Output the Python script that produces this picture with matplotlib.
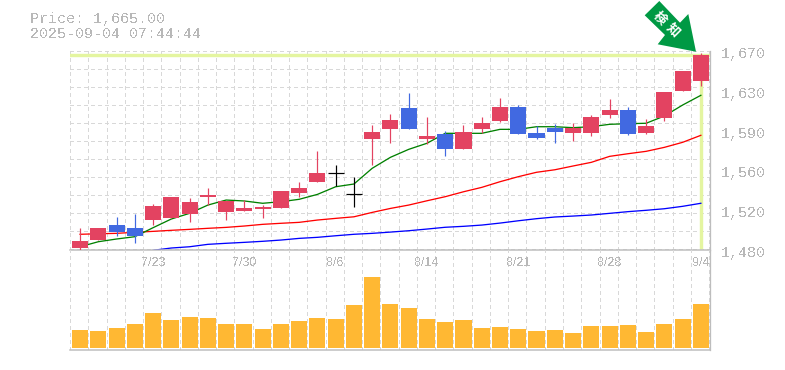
import matplotlib
matplotlib.use("Agg")  # headless-safe backend
import matplotlib.pyplot as plt
import numpy as np
from matplotlib.patches import Polygon

W, H = 785, 370

# price data
opens = [1481.9, 1489.5, 1503.8, 1501.0, 1508.6, 1510.5, 1514.3, 1530.6, 1516.2, 1517.2, 1519.1, 1520.0,
         1534.4, 1544.9, 1553.2, 1533.1, 1586.0, 1595.5, 1615.6, 1586.0, 1590.7, 1576.4, 1595.5, 1603.2,
         1616.5, 1591.7, 1596.5, 1591.7, 1591.7, 1608.9, 1613.7, 1591.7, 1606.0, 1631.8, 1641.4]
closes = [1488.6, 1501.0, 1497.1, 1493.3, 1522.0, 1530.6, 1525.8, 1532.5, 1526.8, 1520.0, 1521.0, 1536.3,
          1539.2, 1553.5, 1553.2, 1533.1, 1592.6, 1604.1, 1595.5, 1588.8, 1576.4, 1592.6, 1601.2, 1616.5,
          1590.7, 1586.9, 1592.6, 1596.5, 1607.0, 1613.7, 1590.7, 1598.4, 1630.8, 1650.9, 1666.2]
highs = [1501.0, 1501.0, 1511.5, 1514.3, 1523.9, 1530.6, 1529.6, 1539.2, 1526.8, 1527.7, 1522.9, 1536.3,
         1544.9, 1574.5, 1561.1, 1549.4, 1599.3, 1609.8, 1629.9, 1607.0, 1593.6, 1599.3, 1607.0, 1625.1,
         1618.4, 1598.4, 1600.3, 1601.2, 1608.9, 1624.2, 1616.5, 1605.1, 1630.8, 1650.9, 1668.1]
lows = [1479.3, 1489.5, 1493.3, 1486.6, 1503.8, 1510.5, 1506.7, 1522.9, 1508.6, 1517.2, 1510.5, 1520.0,
        1530.6, 1544.9, 1540.8, 1521.3, 1561.1, 1582.1, 1595.5, 1581.2, 1569.7, 1576.4, 1591.7, 1602.2,
        1590.7, 1586.0, 1582.1, 1584.0, 1588.8, 1606.0, 1589.8, 1590.7, 1603.2, 1631.8, 1636.6]
ma_green = [1483.1, 1487.9, 1490.5, 1492.7, 1501.3, 1509.6, 1515.0, 1522.9, 1527.7, 1526.8, 1524.6, 1526.1,
            1528.4, 1533.1, 1540.4, 1543.0, 1558.0, 1568.5, 1576.1, 1581.9, 1591.4, 1591.4, 1591.4, 1595.2,
            1595.2, 1597.7, 1597.7, 1596.8, 1597.7, 1600.0, 1600.6, 1601.0, 1607.9, 1618.4, 1627.7]
ma_red = [1495.0, 1495.5, 1495.9, 1496.9, 1497.8, 1498.8, 1499.7, 1500.7, 1501.6, 1502.9, 1504.5, 1505.5,
          1506.4, 1508.6, 1510.2, 1511.7, 1515.9, 1519.7, 1522.9, 1527.0, 1530.9, 1535.6, 1539.8, 1545.2,
          1550.0, 1554.2, 1556.6, 1560.2, 1563.7, 1569.4, 1571.9, 1574.2, 1578.0, 1582.8, 1589.5]
ma_blue = [np.nan, np.nan, np.nan, np.nan, 1479.7, 1481.9, 1483.1, 1485.4, 1486.4, 1487.3, 1488.3, 1489.5,
           1491.1, 1492.1, 1493.6, 1495.0, 1495.9, 1497.1, 1498.4, 1500.0, 1501.7, 1502.6, 1503.8, 1505.7,
           1507.9, 1509.9, 1511.5, 1512.4, 1513.4, 1515.0, 1516.6, 1517.9, 1519.4, 1521.7, 1524.6]
volumes = [18, 17, 20, 24, 35, 28, 31, 30, 24, 24, 19, 24, 27, 30, 29, 43, 71, 44,
           40, 29, 26, 28, 20, 21, 19, 17, 18, 15, 22, 22, 23, 16, 24, 29, 44]

price_ticks = [1670, 1632, 1594, 1556, 1518, 1480]
date_idx = [4, 9, 14, 19, 24, 29, 34]
date_labels = ["7/23", "7/30", "8/6", "8/14", "8/21", "8/28", "9/4"]
last_price = 1666

RED, BLUE = "#e34361", "#4169e1"
GRID, AXIS, TEXT = "#d8d8d8", "#bdbdbd", "#b8b8b8"
MONO = "Liberation Mono"
plt.rcParams["text.antialiased"] = False


def px(n):
    return n * 72 / 100


def box(left, top, right, bottom):
    return [left / W, 1 - bottom / H, (right - left) / W, (bottom - top) / H]


fig = plt.figure(figsize=(W / 100, H / 100), dpi=100)
ax = fig.add_axes(box(70, 51, 710, 250))
vol = fig.add_axes(box(70, 250, 710, 350), sharex=ax)
n = len(opens)
x = np.arange(n)

for a in (ax, vol):
    a.set_xlim(-0.55, 34.5)
    a.tick_params(length=0, labelleft=False, labelbottom=False)
    for s in a.spines.values():
        s.set_visible(False)
    a.spines["right"].set_visible(True)
    a.spines["bottom"].set_visible(True)
    a.spines["right"].set_color(AXIS)
    a.spines["bottom"].set_color(AXIS)
    a.spines["right"].set_linewidth(px(1.3))
    a.spines["bottom"].set_linewidth(px(1.5))
    a.set_xticks(np.arange(n + 1) - 0.55)
    a.grid(axis="x", color=GRID, lw=px(1), ls=(0, (3, 3)), antialiased=False)
    a.set_axisbelow(True)
    a.patch.set_alpha(0)

# price panel
ax.set_ylim(1480, 1670)
ax.set_yticks(np.arange(1670, 1480, -18 * 0.955))
ax.grid(axis="y", color=GRID, lw=px(1), ls=(0, (3, 3)), antialiased=False)
ax.axhline(1670, color=GRID, lw=px(1), ls=(0, (3, 3)), clip_on=False, antialiased=False)
ax.axhline(last_price, color="#e4f5a0", lw=px(3.4), zorder=1.5)
ax.vlines(x[-1], 1481, last_price, color="#e4f5a0", lw=px(3.4), zorder=1.5)

ax.plot(x, ma_blue, color="#0000ff", lw=px(1.3), zorder=2)
ax.plot(x, ma_red, color="#ff0000", lw=px(1.3), zorder=2)
ax.plot(x, ma_green, color="#008000", lw=px(1.3), zorder=2)

for i in range(n):
    o, c = opens[i], closes[i]
    color = RED if c > o else BLUE if c < o else "black"
    ax.vlines(x[i], lows[i], highs[i], color=color, lw=px(1.2), zorder=3)
    if c == o:
        ax.hlines(c, x[i] - 0.44, x[i] + 0.44, color=color, lw=px(1.2), zorder=3)
    else:
        ax.bar(x[i], abs(c - o), bottom=min(o, c), width=0.88, color=color, lw=0, zorder=3)

for v in price_ticks:
    ax.annotate(f"{round(v, -1):,.0f}", (1, v), xycoords=("axes fraction", "data"), xytext=(px(11), -px(3)),
                textcoords="offset points", ha="left", va="center", family=MONO, fontsize=px(15),
                color=TEXT, annotation_clip=False)

# volume panel
vol.set_ylim(-2, 98)
vol.bar(x, volumes, width=0.88, color="#ffb833", lw=0, zorder=2)
for i, lab in zip(date_idx, date_labels):
    vol.annotate(lab, (i, 1), xycoords=("data", "axes fraction"), xytext=(0, -px(12.5)),
                 textcoords="offset points", ha="center", va="center", family="Liberation Sans",
                 fontsize=px(12.5), color=TEXT, annotation_clip=False)

# overlay in pixel coordinates for the header and the signal arrow
top = fig.add_axes([0, 0, 1, 1])
top.set_xlim(0, W)
top.set_ylim(H, 0)
top.axis("off")
top.text(30, 19, "Price: 1,665.00", family=MONO, fontsize=px(15), color=TEXT, va="center")
top.text(30, 34, "2025-09-04 07:44:44", family=MONO, fontsize=px(15), color=TEXT, va="center")
arrow = [(659.3, 1), (644.7, 15.3), (665, 35), (657.7, 44.3), (696, 51.7), (688.3, 14), (680, 22.7)]
top.add_patch(Polygon(arrow, closed=True, facecolor="#009944", edgecolor="none"))
for cx, cy, ch in [(660, 18, "検"), (673, 30, "知")]:
    top.text(cx, cy, ch, family=["Noto Sans CJK JP", "DejaVu Sans"], fontsize=px(13), fontweight="bold",
             color="white", rotation=-45, rotation_mode="anchor", ha="center", va="center", antialiased=True)

fig.savefig("out.png", dpi=100)
plt.close(fig)
